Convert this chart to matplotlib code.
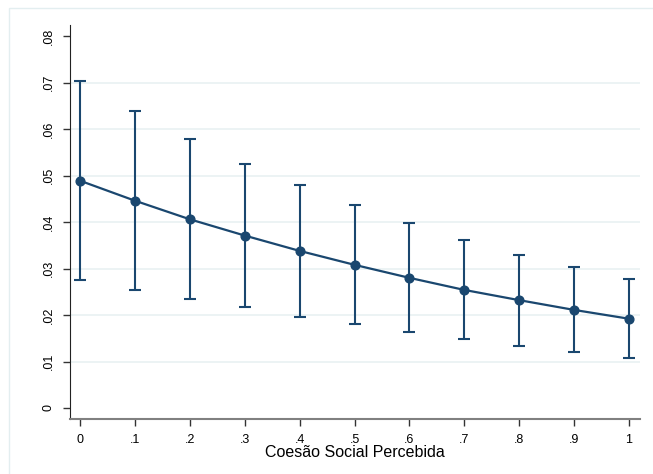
import numpy as np
import matplotlib
matplotlib.use("Agg")
import matplotlib.pyplot as plt
from matplotlib.patches import Rectangle

# margins of the predicted probability over perceived social cohesion
coesao = [0, .1, .2, .3, .4, .5, .6, .7, .8, .9, 1]
margem = [0.0489, 0.0446, 0.0406, 0.0371, 0.0338, 0.0308, 0.0280, 0.0254, 0.0232, 0.0211, 0.0192]
ic_sup = [0.0704, 0.0639, 0.0579, 0.0526, 0.0480, 0.0437, 0.0398, 0.0361, 0.0329, 0.0304, 0.0277]
ic_inf = [0.0275, 0.0254, 0.0234, 0.0217, 0.0196, 0.0181, 0.0163, 0.0148, 0.0133, 0.0120, 0.0107]

xtick_labels = ['0', '.1', '.2', '.3', '.4', '.5', '.6', '.7', '.8', '.9', '1']
yticks = [0, .01, .02, .03, .04, .05, .06, .07, .08]
ytick_labels = ['0', '.01', '.02', '.03', '.04', '.05', '.06', '.07', '.08']

navy = '#1a476f'
plt.rcParams['font.family'] = ['Liberation Sans', 'DejaVu Sans']

fig = plt.figure(figsize=(6.53, 4.74), dpi=100)
fig.patches.append(Rectangle((9 / 653, -0.1), 1.2, (474 - 8) / 474 + 0.1,
                             transform=fig.transFigure, fill=False,
                             edgecolor='#e3eef0', linewidth=1.0))

ax = fig.add_axes([70 / 653, (474 - 419) / 474, 570 / 653, 394 / 474])

# light horizontal grid, not at the ends
for y in yticks[1:-1]:
    ax.axhline(y, color='#eaf2f3', linewidth=1.3, zorder=0)

yerr = [np.array(margem) - np.array(ic_inf), np.array(ic_sup) - np.array(margem)]
ax.errorbar(coesao, margem, yerr=yerr, color=navy, linewidth=1.6,
            elinewidth=1.5, capsize=4.5, capthick=1.5, marker='o',
            markersize=6.3, zorder=3)

ax.set_xlim(-0.0182, 1.02)
ax.set_ylim(-0.00237, 0.0824)
ax.set_xticks(coesao)
ax.set_xticklabels(xtick_labels, fontsize=9)
ax.set_yticks(yticks)
ax.set_yticklabels(ytick_labels, fontsize=9, rotation=90, va='center')
ax.tick_params(axis='both', length=5, width=1, color='#333333', pad=6)
ax.set_xlabel('Coesão Social Percebida', fontsize=11.5, labelpad=-1)

ax.spines['top'].set_visible(False)
ax.spines['right'].set_visible(False)
ax.spines['left'].set_color('#222222')
ax.spines['bottom'].set_color('#808080')
ax.spines['bottom'].set_linewidth(1.5)

fig.savefig('out.png', dpi=100)
